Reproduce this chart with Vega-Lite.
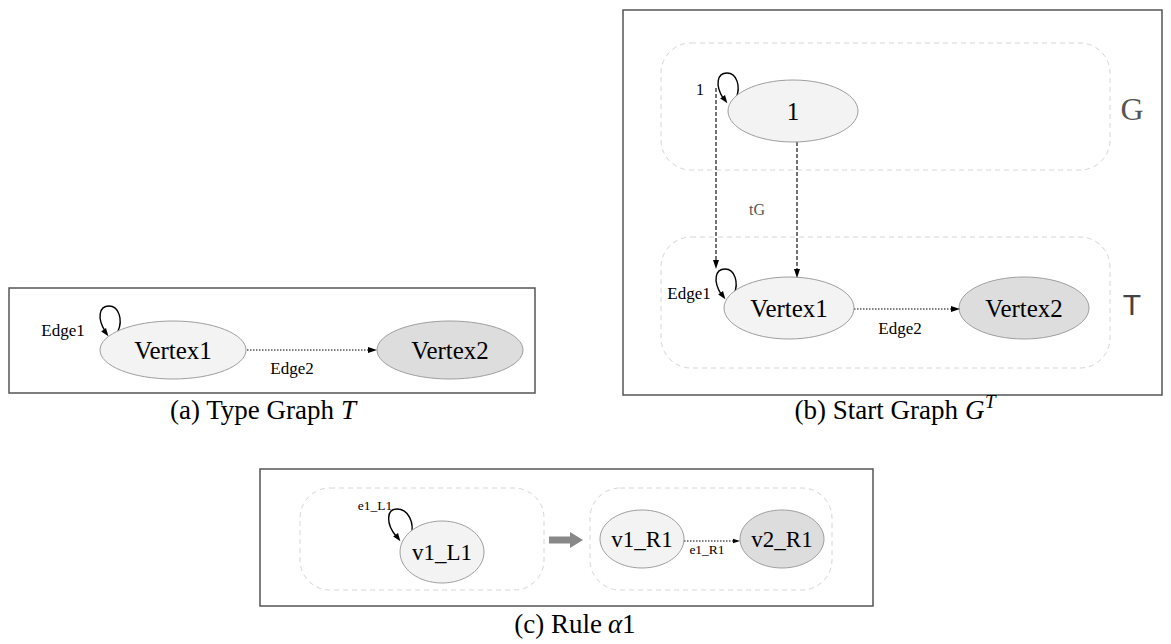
{
  "$schema": "https://vega.github.io/schema/vega-lite/v6.json",
  "width": 1171,
  "height": 644,
  "padding": 0,
  "autosize": {"type": "none"},
  "background": "white",
  "config": {"view": {"stroke": null}},
  "datasets": {
    "boxes": [
      {"id": "a", "x": 9, "x2": 535, "y": 288, "y2": 393},
      {"id": "b", "x": 623, "x2": 1162, "y": 10, "y2": 395},
      {"id": "c", "x": 260, "x2": 873, "y": 469, "y2": 606}
    ],
    "groups": [
      {"id": "G", "x": 661, "x2": 1110, "y": 43, "y2": 170},
      {"id": "T", "x": 661, "x2": 1110, "y": 237, "y2": 368},
      {"id": "L1", "x": 300, "x2": 544, "y": 488, "y2": 590},
      {"id": "R1", "x": 590, "x2": 832, "y": 488, "y2": 590}
    ],
    "nodes": [
      {"name": "Vertex1", "panel": "a", "vtype": "Vertex1", "x": 173, "y": 350},
      {"name": "Vertex2", "panel": "a", "vtype": "Vertex2", "x": 450, "y": 350},
      {"name": "1", "panel": "b", "vtype": "Vertex1", "x": 793, "y": 111},
      {"name": "Vertex1", "panel": "b", "vtype": "Vertex1", "x": 789, "y": 308},
      {"name": "Vertex2", "panel": "b", "vtype": "Vertex2", "x": 1024, "y": 308},
      {"name": "v1_L1", "panel": "cL", "vtype": "Vertex1", "x": 442, "y": 552},
      {"name": "v1_R1", "panel": "cR", "vtype": "Vertex1", "x": 642, "y": 539},
      {"name": "v2_R1", "panel": "cR", "vtype": "Vertex2", "x": 782, "y": 539}
    ],
    "loops": [
      {"loop": "std", "x": 109, "y": 320},
      {"loop": "std", "x": 727, "y": 87},
      {"loop": "std", "x": 725, "y": 283},
      {"loop": "big", "x": 398, "y": 524}
    ],
    "edges": [
      {"kind": "typing", "x": 716, "y": 88, "x2": 716, "y2": 262},
      {"kind": "typing", "x": 797, "y": 142, "x2": 797, "y2": 271},
      {"kind": "edge", "x": 247, "y": 350, "x2": 368, "y2": 350},
      {"kind": "edge", "x": 854, "y": 309, "x2": 951, "y2": 309},
      {"kind": "edge", "x": 684, "y": 541, "x2": 733, "y2": 541}
    ],
    "heads": [
      {"dir": "right", "x": 372, "y": 350},
      {"dir": "right", "x": 955, "y": 309},
      {"dir": "rightS", "x": 736, "y": 541},
      {"dir": "down", "x": 716, "y": 264},
      {"dir": "down", "x": 797, "y": 273},
      {"dir": "loop", "x": 106, "y": 333},
      {"dir": "loop", "x": 725, "y": 100},
      {"dir": "loop", "x": 723, "y": 296},
      {"dir": "loop", "x": 398, "y": 538}
    ],
    "block": [
      {"rule": "alpha1", "x": 566, "y": 540}
    ],
    "labels": [
      {"text": "Edge1", "cls": "edge", "x": 63, "y": 331},
      {"text": "Edge2", "cls": "edge", "x": 292, "y": 369},
      {"text": "Edge1", "cls": "edge", "x": 689, "y": 294},
      {"text": "Edge2", "cls": "edge", "x": 900, "y": 329},
      {"text": "e1_L1", "cls": "small", "x": 375, "y": 506},
      {"text": "e1_R1", "cls": "small", "x": 707, "y": 550},
      {"text": "1", "cls": "loop", "x": 700, "y": 90},
      {"text": "tG", "cls": "map", "x": 757, "y": 210},
      {"text": "G", "cls": "grpG", "x": 1132, "y": 110},
      {"text": "T", "cls": "grpT", "x": 1132, "y": 306}
    ],
    "captions": [
      {"text": "(a) Type Graph", "part": "lead", "x": 334, "y": 419},
      {"text": "T", "part": "ital", "x": 341, "y": 419},
      {"text": "(b) Start Graph", "part": "lead", "x": 958, "y": 419},
      {"text": "G", "part": "ital", "x": 965, "y": 419},
      {"text": "T", "part": "sup", "x": 985, "y": 408},
      {"text": "(c) Rule", "part": "lead", "x": 602, "y": 633},
      {"text": "α", "part": "ital", "x": 608, "y": 633},
      {"text": "1", "part": "tail", "x": 622, "y": 633}
    ]
  },
  "resolve": {"scale": {"shape": "independent", "fill": "independent", "strokeDash": "independent"}},
  "encoding": {
    "x": {"field": "x", "type": "quantitative", "scale": {"domain": [0, 1171], "nice": false, "zero": false}, "axis": null},
    "y": {"field": "y", "type": "quantitative", "scale": {"domain": [0, 644], "nice": false, "zero": false, "reverse": true}, "axis": null}
  },
  "layer": [
    {
      "data": {"name": "boxes"},
      "mark": {"type": "rect", "fill": "white", "fillOpacity": 0, "stroke": "#555555", "strokeWidth": 1.5},
      "encoding": {"x2": {"field": "x2"}, "y2": {"field": "y2"}}
    },
    {
      "data": {"name": "groups"},
      "mark": {"type": "rect", "fill": "white", "fillOpacity": 0, "stroke": "#d6d6d6", "strokeWidth": 1, "strokeDash": [5, 4], "cornerRadius": 30},
      "encoding": {"x2": {"field": "x2"}, "y2": {"field": "y2"}}
    },
    {
      "data": {"name": "loops"},
      "mark": {"type": "point", "filled": false, "stroke": "black", "strokeWidth": 1.4, "opacity": 1, "size": 4},
      "encoding": {
        "shape": {"field": "loop", "type": "nominal", "legend": null, "scale": {"domain": ["std", "big"], "range": ["M9,11C14,0 10,-14 0,-14C-10,-14 -12,-2 -4,11", "M13,13C17,-2 10,-15 -1,-15C-12,-15 -12,0 -2,12"]}}
      }
    },
    {
      "data": {"name": "edges"},
      "mark": {"type": "rule", "color": "black", "strokeWidth": 1.1},
      "encoding": {
        "x2": {"field": "x2"},
        "y2": {"field": "y2"},
        "strokeDash": {"field": "kind", "type": "nominal", "legend": null, "scale": {"domain": ["typing", "edge"], "range": [[4, 2], [1.5, 1.5]]}}
      }
    },
    {
      "data": {"name": "nodes"},
      "mark": {"type": "point", "filled": true, "stroke": "#9e9e9e", "strokeWidth": 1, "opacity": 1, "size": 4},
      "encoding": {
        "shape": {"field": "panel", "type": "nominal", "legend": null, "scale": {"domain": ["a", "b", "cL", "cR"], "range": [
          "M-73,0A73,29,0,1,1,73,0A73,29,0,1,1,-73,0Z",
          "M-65,0A65,31,0,1,1,65,0A65,31,0,1,1,-65,0Z",
          "M-42,0A42,31,0,1,1,42,0A42,31,0,1,1,-42,0Z",
          "M-42,0A42,29,0,1,1,42,0A42,29,0,1,1,-42,0Z"
        ]}},
        "fill": {"field": "vtype", "type": "nominal", "legend": null, "scale": {"domain": ["Vertex1", "Vertex2"], "range": ["#f3f3f3", "#dddddd"]}}
      }
    },
    {
      "data": {"name": "heads"},
      "mark": {"type": "point", "filled": true, "color": "black", "opacity": 1, "size": 4, "strokeWidth": 0},
      "encoding": {
        "shape": {"field": "dir", "type": "nominal", "legend": null, "scale": {"domain": ["right", "rightS", "down", "loop"], "range": [
          "M5,0L-4,-3L-4,3Z",
          "M4,0L-3,-2.2L-3,2.2Z",
          "M0,5L-3,-4L3,-4Z",
          "M2.4,3.2L-4.8,-1.4L0,-5Z"
        ]}}
      }
    },
    {
      "data": {"name": "block"},
      "mark": {"type": "point", "filled": true, "color": "#888888", "opacity": 1, "size": 4, "strokeWidth": 0, "shape": "M-17,-3.5L4,-3.5L4,-8L17,0L4,8L4,3.5L-17,3.5Z"},
      "encoding": {}
    },
    {
      "data": {"name": "nodes"},
      "transform": [{"filter": "datum.panel === 'a' || datum.panel === 'b'"}],
      "mark": {"type": "text", "font": "Liberation Serif", "fontSize": 25, "color": "black", "baseline": "middle", "align": "center", "dy": 1},
      "encoding": {"text": {"field": "name"}}
    },
    {
      "data": {"name": "nodes"},
      "transform": [{"filter": "datum.panel === 'cL' || datum.panel === 'cR'"}],
      "mark": {"type": "text", "font": "Liberation Serif", "fontSize": 23, "color": "black", "baseline": "middle", "align": "center", "dy": 1},
      "encoding": {"text": {"field": "name"}}
    },
    {
      "data": {"name": "labels"},
      "transform": [{"filter": "datum.cls === 'edge'"}],
      "mark": {"type": "text", "font": "Liberation Serif", "fontSize": 17, "color": "black", "baseline": "middle", "align": "center"},
      "encoding": {"text": {"field": "text"}}
    },
    {
      "data": {"name": "labels"},
      "transform": [{"filter": "datum.cls === 'small'"}],
      "mark": {"type": "text", "font": "Liberation Serif", "fontSize": 13.5, "color": "black", "baseline": "middle", "align": "center"},
      "encoding": {"text": {"field": "text"}}
    },
    {
      "data": {"name": "labels"},
      "transform": [{"filter": "datum.cls === 'loop'"}],
      "mark": {"type": "text", "font": "Liberation Serif", "fontSize": 16, "color": "black", "baseline": "middle", "align": "center"},
      "encoding": {"text": {"field": "text"}}
    },
    {
      "data": {"name": "labels"},
      "transform": [{"filter": "datum.cls === 'map'"}],
      "mark": {"type": "text", "font": "Liberation Serif", "fontSize": 16, "color": "#555555", "baseline": "middle", "align": "center"},
      "encoding": {"text": {"field": "text"}}
    },
    {
      "data": {"name": "labels"},
      "transform": [{"filter": "datum.cls === 'grpG'"}],
      "mark": {"type": "text", "font": "Liberation Serif", "fontSize": 32, "color": "#555555", "baseline": "middle", "align": "center"},
      "encoding": {"text": {"field": "text"}}
    },
    {
      "data": {"name": "labels"},
      "transform": [{"filter": "datum.cls === 'grpT'"}],
      "mark": {"type": "text", "font": "Liberation Sans", "fontSize": 30, "color": "#444444", "baseline": "middle", "align": "center"},
      "encoding": {"text": {"field": "text"}}
    },
    {
      "data": {"name": "captions"},
      "transform": [{"filter": "datum.part === 'lead'"}],
      "mark": {"type": "text", "font": "Liberation Serif", "fontSize": 27, "color": "black", "baseline": "alphabetic", "align": "right"},
      "encoding": {"text": {"field": "text"}}
    },
    {
      "data": {"name": "captions"},
      "transform": [{"filter": "datum.part === 'ital'"}],
      "mark": {"type": "text", "font": "Liberation Serif", "fontSize": 27, "fontStyle": "italic", "color": "black", "baseline": "alphabetic", "align": "left"},
      "encoding": {"text": {"field": "text"}}
    },
    {
      "data": {"name": "captions"},
      "transform": [{"filter": "datum.part === 'sup'"}],
      "mark": {"type": "text", "font": "Liberation Serif", "fontSize": 19, "fontStyle": "italic", "color": "black", "baseline": "alphabetic", "align": "left"},
      "encoding": {"text": {"field": "text"}}
    },
    {
      "data": {"name": "captions"},
      "transform": [{"filter": "datum.part === 'tail'"}],
      "mark": {"type": "text", "font": "Liberation Serif", "fontSize": 27, "color": "black", "baseline": "alphabetic", "align": "left"},
      "encoding": {"text": {"field": "text"}}
    }
  ]
}
